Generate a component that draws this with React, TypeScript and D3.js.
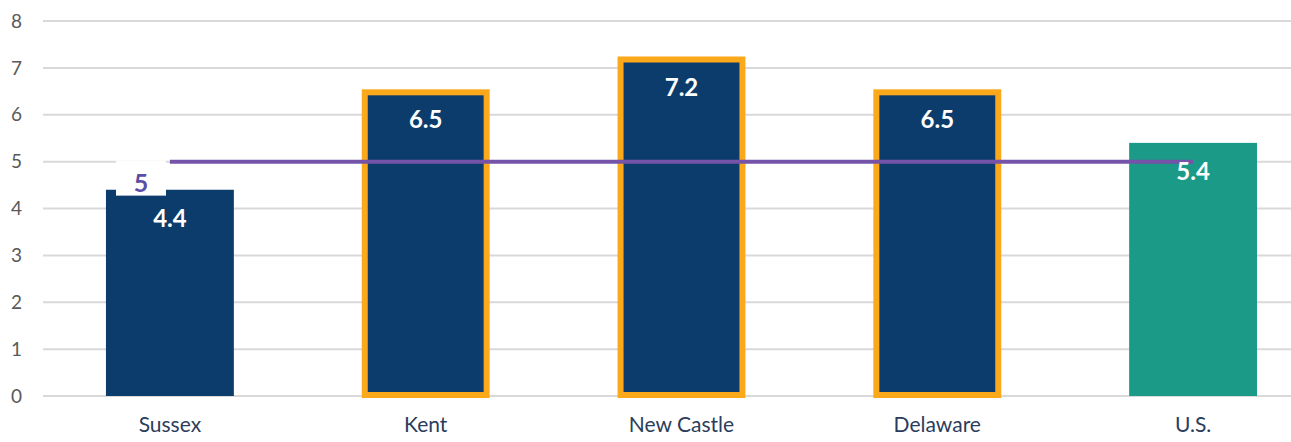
import React from "react";
import * as d3 from "d3";

const categories = ["Sussex", "Kent", "New Castle", "Delaware", "U.S."];
const values = [4.4, 6.5, 7.2, 6.5, 5.4];
const highlighted = [false, true, true, true, false];
const isNational = [false, false, false, false, true];
const yTicks = [0, 1, 2, 3, 4, 5, 6, 7, 8];
const targetValue = 5;
const targetLabel = "5";

const W = 1291;
const H = 442;

export default function App() {
  const x = d3.scaleBand<string>().domain(categories).range([42, 1321]).paddingInner(0.5).paddingOuter(0.25);
  const y = d3.scaleLinear().domain([0, 8]).range([396, 21]);
  const bw = x.bandwidth();
  const font = "Lato, 'Open Sans', sans-serif";
  const firstC = (x(categories[0]) as number) + bw / 2;
  const lastC = (x(categories[categories.length - 1]) as number) + bw / 2;

  return (
    <svg width={W} height={H} style={{ position: "absolute", left: 0, top: 0, background: "#fff" }}>
      {yTicks.map((t) => (
        <g key={t}>
          <line x1={43} x2={1291} y1={y(t)} y2={y(t)} stroke="#d9d9d9" strokeWidth={2} />
          <text x={22} y={y(t)} dy="0.35em" textAnchor="end" fontFamily={font} fontSize={19} fill="#595959">
            {t}
          </text>
        </g>
      ))}
      {categories.map((c, i) => {
        const x0 = x(c) as number;
        const top = y(values[i]);
        const fill = isNational[i] ? "#1b9a88" : "#0c3c6b";
        return (
          <g key={c}>
            {highlighted[i] ? (
              <rect x={x0 + 3} y={top + 1} width={bw - 6} height={y(0) - top - 2} fill={fill} stroke="#fba81a" strokeWidth={6} />
            ) : (
              <rect x={x0} y={top} width={bw} height={y(0) - top} fill={fill} />
            )}
          </g>
        );
      })}
      <line x1={firstC} x2={lastC} y1={y(targetValue)} y2={y(targetValue)} stroke="#7453a8" strokeWidth={4} />
      {categories.map((c, i) => {
        const cx = (x(c) as number) + bw / 2;
        return (
          <g key={c + "-lbl"}>
            <text x={cx} y={y(values[i]) + 37} textAnchor="middle" fontFamily={font} fontWeight={700} fontSize={24} fill="#ffffff">
              {values[i].toFixed(1)}
            </text>
            <text x={cx} y={425} dy="0.35em" textAnchor="middle" fontFamily={font} fontSize={21} fill="#2b3d5c">
              {c}
            </text>
          </g>
        );
      })}
      <rect x={116} y={y(targetValue) - 1} width={50} height={35} fill="#ffffff" />
      <text x={141} y={y(targetValue) + 30} textAnchor="middle" fontFamily={font} fontWeight={700} fontSize={25} fill="#5b4ea6">
        {targetLabel}
      </text>
    </svg>
  );
}
